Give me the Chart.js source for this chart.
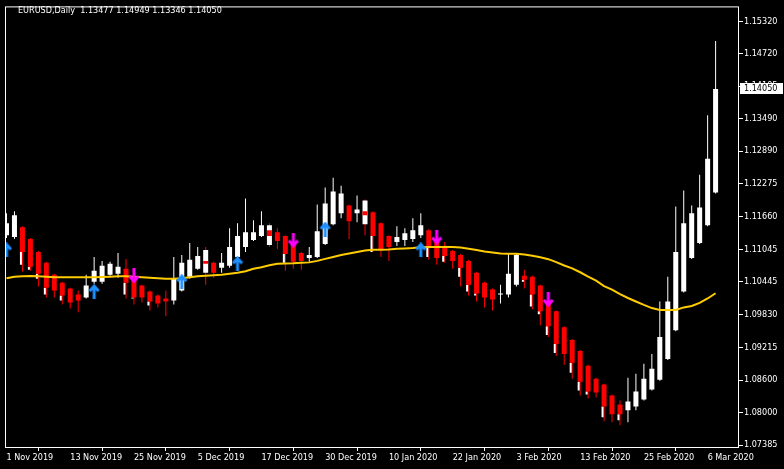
<!DOCTYPE html>
<html>
<head>
<meta charset="utf-8">
<script src="https://cdn.jsdelivr.net/npm/chart.js@4"></script>
<style>
  html, body { margin: 0; padding: 0; background: #000; }
  #chartContainer { width: 784px; height: 469px; }
</style>
</head>
<body>
<div id="chartContainer"><canvas id="chartWrapper" width="784" height="469"></canvas></div>
<script>
// daily EURUSD bars, 1 Nov 2019 .. 9 Mar 2020 (index 0 = 1 Nov)
var openPrices = [
  1.11315, 1.11278, 1.11464, 1.11241, 1.11000, 1.10796, 1.10574, 1.10425, 1.10314, 1.10203,
  1.10147, 1.10444, 1.10444, 1.10574, 1.10592, 1.10685, 1.10518, 1.10370, 1.10258, 1.10184,
  1.10129, 1.10092, 1.10277, 1.10537, 1.10685, 1.10611, 1.10796, 1.10703, 1.10740, 1.10907,
  1.11093, 1.11222, 1.11297, 1.11130, 1.11371, 1.11297, 1.11167, 1.10981, 1.10889, 1.10907,
  1.11148, 1.11519, 1.11723, 1.11871, 1.11723, 1.11519, 1.11742, 1.11538, 1.11297, 1.11185,
  1.11222, 1.11241, 1.11315, 1.11408, 1.11185, 1.11093, 1.11019, 1.10944, 1.10833, 1.10611,
  1.10425, 1.10295, 1.10203, 1.10203, 1.10388, 1.10555, 1.10537, 1.10370, 1.10073, 1.09888,
  1.09591, 1.09350, 1.09146, 1.08868, 1.08627, 1.08516, 1.08312, 1.08145, 1.08034, 1.08108,
  1.08238, 1.08423, 1.08608, 1.08998, 1.09535, 1.10258, 1.10889, 1.11167, 1.11501, 1.12112
];
var highPrices = [
  1.11723, 1.11760, 1.11482, 1.11260, 1.11019, 1.10815, 1.10592, 1.10444, 1.10332, 1.10277,
  1.10574, 1.10907, 1.10833, 1.10815, 1.10981, 1.10870, 1.10537, 1.10388, 1.10277, 1.10203,
  1.10277, 1.10907, 1.10944, 1.11167, 1.11093, 1.11093, 1.10815, 1.10981, 1.11445, 1.11538,
  1.12001, 1.11593, 1.11760, 1.11538, 1.11445, 1.11315, 1.11185, 1.11000, 1.11093, 1.11890,
  1.12205, 1.12391, 1.12242, 1.11890, 1.12057, 1.11983, 1.11760, 1.11556, 1.11315, 1.11482,
  1.11445, 1.11630, 1.11723, 1.11426, 1.11204, 1.11185, 1.11037, 1.10963, 1.10852, 1.10629,
  1.10444, 1.10314, 1.10388, 1.10963, 1.10981, 1.10666, 1.10555, 1.10388, 1.10092, 1.09906,
  1.09609, 1.09368, 1.09165, 1.08886, 1.08645, 1.08534, 1.08330, 1.08219, 1.08645, 1.08720,
  1.08905, 1.09090, 1.10073, 1.10537, 1.11853, 1.12149, 1.11871, 1.12446, 1.13559, 1.14949
];
var lowPrices = [
  1.11260, 1.11241, 1.10629, 1.10648, 1.10351, 1.10147, 1.10147, 1.10017, 1.09943, 1.09869,
  1.10129, 1.10407, 1.10407, 1.10555, 1.10518, 1.10129, 1.10017, 1.10054, 1.09906, 1.09962,
  1.09795, 1.10017, 1.10258, 1.10499, 1.10666, 1.10388, 1.10518, 1.10611, 1.10703, 1.10870,
  1.11000, 1.11204, 1.11278, 1.11093, 1.11056, 1.10648, 1.10685, 1.10666, 1.10815, 1.10889,
  1.11130, 1.11501, 1.11630, 1.11241, 1.11556, 1.11315, 1.11000, 1.10907, 1.10833, 1.11111,
  1.11111, 1.11185, 1.11260, 1.10852, 1.10759, 1.10796, 1.10685, 1.10351, 1.10184, 1.10073,
  1.09962, 1.09906, 1.10036, 1.10147, 1.10351, 1.10314, 1.09925, 1.09628, 1.09406, 1.09053,
  1.08886, 1.08627, 1.08312, 1.08256, 1.08275, 1.07830, 1.07811, 1.07756, 1.07811, 1.08034,
  1.08219, 1.08404, 1.08590, 1.08979, 1.09517, 1.10240, 1.10870, 1.11148, 1.11482, 1.12094
];
var closePrices = [
  1.11538, 1.11686, 1.11000, 1.10722, 1.10592, 1.10332, 1.10277, 1.10184, 1.10054, 1.10092,
  1.10370, 1.10648, 1.10740, 1.10778, 1.10722, 1.10425, 1.10147, 1.10147, 1.10073, 1.10036,
  1.10073, 1.10499, 1.10796, 1.10852, 1.10926, 1.11037, 1.10611, 1.10796, 1.11093, 1.11297,
  1.11371, 1.11371, 1.11501, 1.11501, 1.11204, 1.10963, 1.10815, 1.10833, 1.10944, 1.11389,
  1.11908, 1.12131, 1.12094, 1.11575, 1.11797, 1.11964, 1.11297, 1.11056, 1.11093, 1.11278,
  1.11352, 1.11408, 1.11501, 1.11074, 1.10889, 1.10926, 1.10833, 1.10703, 1.10388, 1.10221,
  1.10147, 1.10110, 1.10221, 1.10592, 1.10944, 1.10481, 1.10203, 1.09888, 1.09609, 1.09276,
  1.09090, 1.08924, 1.08571, 1.08386, 1.08367, 1.08108, 1.07960, 1.07960, 1.08200, 1.08386,
  1.08627, 1.08812, 1.09406, 1.10073, 1.11000, 1.11538, 1.11723, 1.11834, 1.12743, 1.14050
];
// moving average (yellow line)
var maValues = [
  1.10509, 1.10537, 1.10546, 1.10550, 1.10546, 1.10537, 1.10527, 1.10527, 1.10527, 1.10527,
  1.10527, 1.10527, 1.10531, 1.10537, 1.10546, 1.10546, 1.10537, 1.10527, 1.10518, 1.10509,
  1.10499, 1.10499, 1.10509, 1.10527, 1.10546, 1.10555, 1.10564, 1.10574, 1.10592, 1.10611,
  1.10638, 1.10685, 1.10713, 1.10750, 1.10778, 1.10783, 1.10787, 1.10796, 1.10805, 1.10833,
  1.10870, 1.10907, 1.10944, 1.10972, 1.11000, 1.11028, 1.11041, 1.11043, 1.11046, 1.11059,
  1.11065, 1.11074, 1.11087, 1.11093, 1.11093, 1.11093, 1.11093, 1.11083, 1.11061, 1.11037,
  1.11009, 1.10991, 1.10972, 1.10968, 1.10967, 1.10954, 1.10931, 1.10902, 1.10865, 1.10809,
  1.10746, 1.10694, 1.10620, 1.10537, 1.10462, 1.10360, 1.10295, 1.10212, 1.10138, 1.10073,
  1.10008, 1.09949, 1.09915, 1.09912, 1.09915, 1.09962, 1.09989, 1.10045, 1.10129, 1.10227
];
// white lower part under some red bodies: [bar, price]
var whiteTails = [
  [2, 1.10759], [3, 1.10666], [4, 1.10499], [5, 1.10203], [7, 1.10092], [15, 1.10203],
  [16, 1.10129], [18, 1.09999], [35, 1.10796], [46, 1.11000], [53, 1.10907], [55, 1.10815],
  [57, 1.10537], [58, 1.10258], [59, 1.10184], [65, 1.10444], [66, 1.09980], [67, 1.09832],
  [68, 1.09443], [69, 1.09109], [71, 1.08738], [72, 1.08404], [73, 1.08330], [75, 1.07904],
  [77, 1.07848]
];
// small red marks inside white candles: [bar, top, bottom]
var redMarks = [[25, 1.10833, 1.10778], [33, 1.11408, 1.11297], [45, 1.11760, 1.11686]];
// signal arrows: [bar, price]
var upArrows = [[0, 1.11037], [11, 1.10258], [22, 1.10444], [29, 1.10778], [40, 1.11426], [52, 1.11037]];
var downArrows = [[16, 1.10555], [36, 1.11222], [54, 1.11278], [68, 1.10110]];

var dateTicks = [0, 8, 16, 24, 32, 40, 48, 56, 64, 72, 80, 88];
var dateLabels = ["1 Nov 2019", "13 Nov 2019", "25 Nov 2019", "5 Dec 2019", "17 Dec 2019", "30 Dec 2019",
  "10 Jan 2020", "22 Jan 2020", "3 Feb 2020", "13 Feb 2020", "25 Feb 2020", "6 Mar 2020"];
var priceTicks = [1.15320, 1.14720, 1.14105, 1.13490, 1.12890, 1.12275, 1.11660, 1.11045,
  1.10445, 1.09830, 1.09215, 1.08600, 1.08000, 1.07385];
var headerText = ["EURUSD,Daily ", "1.13477", "1.14949", "1.13346", "1.14050"];

var RED = "#ff0000";
var WHITE = "#ffffff";
var FONT = "'DejaVu Sans Condensed', 'Liberation Sans', sans-serif";

// arrow glyphs for the signal points
function makeArrow(color, up) {
  let c = document.createElement("canvas");
  c.width = 12;
  c.height = 15;
  let g = c.getContext("2d");
  g.strokeStyle = color;
  g.lineWidth = 3;
  g.lineJoin = "miter";
  if (!up) {
    g.translate(0, 15);
    g.scale(1, -1);
  }
  g.beginPath();
  g.moveTo(6, 3);
  g.lineTo(6, 15);
  g.moveTo(1.5, 7);
  g.lineTo(6, 2);
  g.lineTo(10.5, 7);
  g.stroke();
  return c;
}

var isRed = closePrices.map((c, i) => c < openPrices[i]);
var markSet = redMarks.map((m) => m[0]);

var mtFrame = {
  id: "mtFrame",
  afterDraw(chart) {
    let ctx = chart.ctx;
    let a = chart.chartArea;
    ctx.save();
    ctx.strokeStyle = WHITE;
    ctx.lineWidth = 1;
    ctx.strokeRect(a.left + 0.5, a.top + 0.5, a.right - a.left - 1, a.bottom - a.top);
    // header
    ctx.fillStyle = WHITE;
    ctx.font = "9px " + FONT;
    ctx.textBaseline = "middle";
    ctx.textAlign = "left";
    ctx.fillText(headerText.join(" "), 18, 11);
    // current price box
    let last = closePrices[closePrices.length - 1];
    let y = Math.round(chart.scales.y.getPixelForValue(last));
    ctx.fillRect(a.right + 1, y - 6, 43, 11);
    ctx.fillStyle = "#000";
    ctx.fillText(last.toFixed(5), a.right + 5, y);
    ctx.restore();
  },
};

var barBase = { type: "bar", grouped: false, borderWidth: 0, inflateAmount: 0 };

new Chart(document.getElementById("chartWrapper"), {
  data: {
    datasets: [
      Object.assign({}, barBase, {
        label: "wick",
        order: 7,
        barThickness: 1,
        data: highPrices.map((h, i) => ({ x: i, y: [lowPrices[i], h] })),
        backgroundColor: highPrices.map((h, i) => (isRed[i] || markSet.includes(i) ? RED : WHITE)),
      }),
      Object.assign({}, barBase, {
        label: "tail",
        order: 6,
        barThickness: 2,
        data: whiteTails.map((t) => ({ x: t[0] - 0.1875, y: [t[1], closePrices[t[0]]] })),
        backgroundColor: WHITE,
      }),
      Object.assign({}, barBase, {
        label: "body",
        order: 5,
        barThickness: 5,
        data: openPrices.map((o, i) => ({ x: i, y: [o, closePrices[i]] })),
        backgroundColor: openPrices.map((o, i) => (isRed[i] ? RED : WHITE)),
      }),
      Object.assign({}, barBase, {
        label: "mark",
        order: 4,
        barThickness: 5,
        data: redMarks.map((m) => ({ x: m[0], y: [m[2], m[1]] })),
        backgroundColor: RED,
      }),
      {
        type: "line",
        label: "MA",
        order: 3,
        data: maValues.map((v, i) => ({ x: i, y: v })),
        borderColor: "#ffcc00",
        borderWidth: 2,
        pointRadius: 0,
        tension: 0,
      },
      {
        type: "scatter",
        label: "buy",
        order: 1,
        data: upArrows.map((p) => ({ x: p[0], y: p[1] })),
        pointStyle: makeArrow("#1e90ff", true),
      },
      {
        type: "scatter",
        label: "sell",
        order: 1,
        data: downArrows.map((p) => ({ x: p[0], y: p[1] })),
        pointStyle: makeArrow("#ff00ff", false),
      },
    ],
  },
  options: {
    responsive: false,
    animation: false,
    devicePixelRatio: 1,
    layout: { padding: { left: 2, top: 2, right: 0, bottom: 0 } },
    plugins: { legend: { display: false }, tooltip: { enabled: false } },
    scales: {
      x: {
        type: "linear",
        min: -0.1875,
        max: 91.9375,
        offset: false,
        afterBuildTicks: (s) => {
          s.ticks = dateTicks.map((v) => ({ value: v }));
        },
        afterFit: (s) => {
          s.height = 22;
        },
        ticks: {
          color: WHITE,
          align: "start",
          autoSkip: false,
          maxRotation: 0,
          padding: 1,
          font: { family: FONT, size: 9 },
          callback: (v) => dateLabels[dateTicks.indexOf(v)],
        },
        grid: { drawOnChartArea: false, color: WHITE, tickLength: 4 },
        border: { display: false },
      },
      y: {
        position: "right",
        min: 1.07348,
        max: 1.15598,
        afterBuildTicks: (s) => {
          s.ticks = priceTicks.map((v) => ({ value: v }));
        },
        afterFit: (s) => {
          s.width = 45;
        },
        ticks: {
          color: WHITE,
          padding: 1,
          font: { family: FONT, size: 9 },
          callback: (v) => Number(v).toFixed(5),
        },
        grid: { drawOnChartArea: false, color: WHITE, tickLength: 4 },
        border: { display: false },
      },
    },
  },
  plugins: [mtFrame],
});
</script>
</body>
</html>
